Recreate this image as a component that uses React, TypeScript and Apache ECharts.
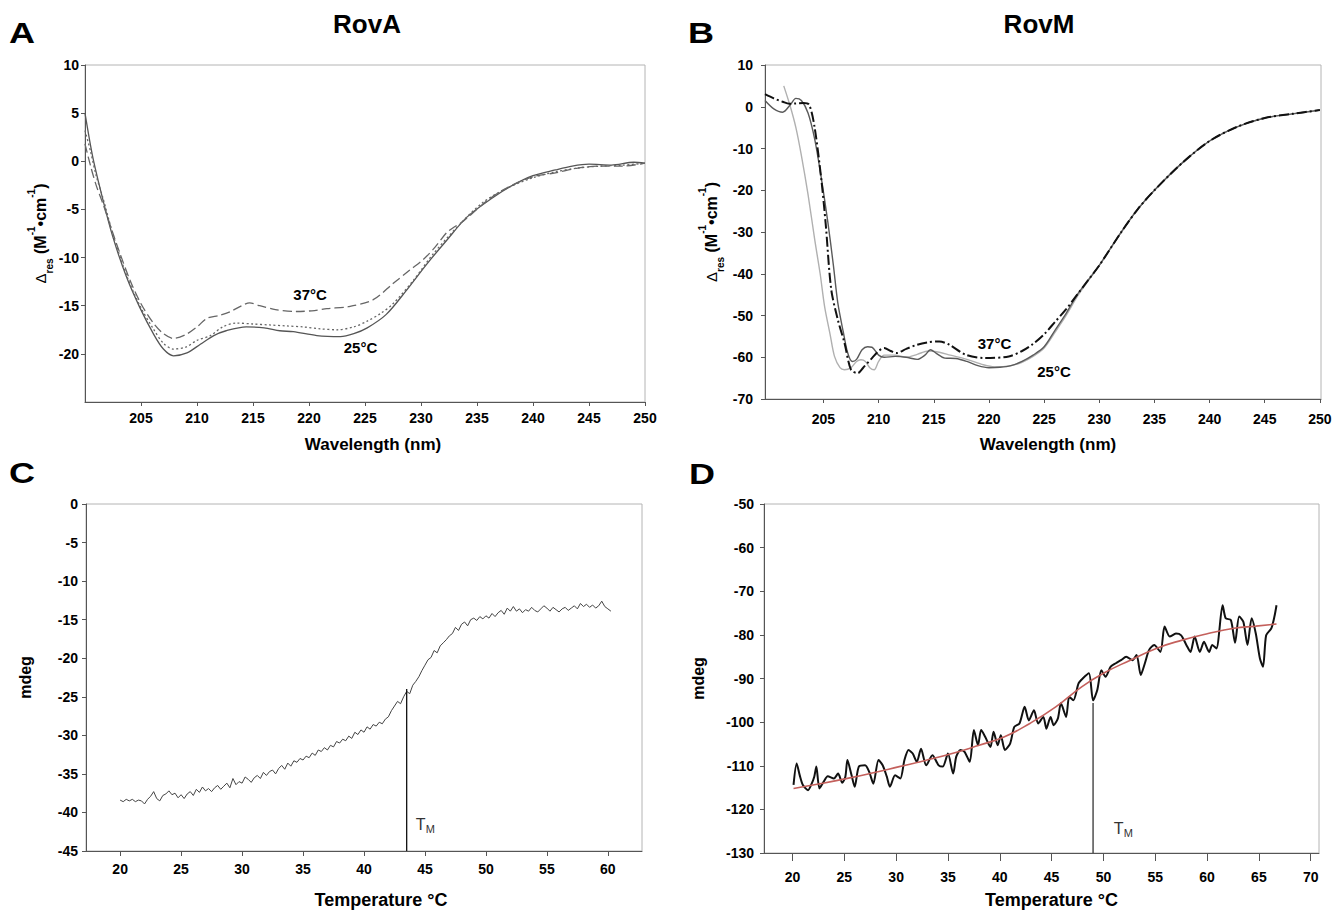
import React, { useEffect, useRef } from "react";
import * as echarts from "echarts";

const FONT = "'Liberation Sans', Arial, Helvetica, sans-serif";

// ---------- Panel A : RovA CD spectra (wavelength nm, Δε res) ----------
const rovA25: number[][] = [
  [200, 5], [200.7, 0.4], [201.6, -4], [202.5, -7.9], [203.7, -12], [204.9, -15.2],
  [206.1, -17.9], [207, -19.5], [207.9, -20.2], [209.1, -19.9], [210.3, -19],
  [211.5, -18.1], [212.6, -17.6], [214.4, -17.2], [216, -17.3], [217.4, -17.6],
  [218.6, -17.7], [220.7, -18.1], [222.8, -18.2], [224, -17.9], [225.2, -17.3],
  [226.9, -15.9], [228.7, -13.4], [230.5, -10.7], [232.3, -8.2], [234.1, -5.8],
  [236.5, -3.7], [238, -2.6], [240, -1.5], [242, -0.9], [243.5, -0.5], [245, -0.3],
  [247, -0.4], [249, -0.1], [250, -0.2],
];
const rovAMid: number[][] = [
  [200, 3.2], [200.5, 1.0], [201, -1.5], [201.6, -3.8], [202.5, -7.6], [203.7, -11.8],
  [204.9, -15], [206.1, -17.4], [207, -18.9], [207.9, -19.5], [209, -19.3], [210, -18.6],
  [211.2, -18.1], [212.3, -17.2], [213.5, -16.8], [215, -16.9], [216.5, -17], [218, -17.1],
  [219.5, -17.2], [221, -17.4], [222.5, -17.5], [224, -17.2], [225.2, -16.6], [226.4, -15.8],
  [227.5, -14.8], [229.3, -12.4], [231.1, -9.6], [233.5, -6.5], [235.5, -4.3], [237.5, -2.9],
  [240, -1.7], [242, -1.1], [244, -0.7], [246, -0.5], [248, -0.4], [250, -0.2],
];
const rovA37: number[][] = [
  [200, 1.8], [200.5, -0.5], [201, -2.5], [201.6, -4.4], [202.5, -7.5], [203.1, -9.5],
  [204, -12.3], [205, -14.8], [206.1, -16.8], [207, -17.9], [207.9, -18.4], [209, -18],
  [210, -17.2], [210.9, -16.3], [212, -16], [213, -15.6], [214, -15], [214.7, -14.7],
  [215.6, -15], [217, -15.4], [218.9, -15.6], [220.5, -15.5], [221.6, -15.3], [223.5, -15.1],
  [225.7, -14.4], [227.5, -12.7], [229, -11.3], [230.2, -10.2], [231.2, -9], [232.3, -7.4],
  [233, -6.8], [233.8, -6.2], [235.9, -4.1], [237.6, -2.8], [240, -1.6], [242, -1.2],
  [244, -0.7], [246, -0.5], [248, -0.5], [250, -0.2],
];

// ---------- Panel B : RovM CD spectra ----------
const rovM25: number[][] = [
  [199.7, 1.5], [200.5, -0.5], [201.3, -1.3], [202, 0.5], [202.5, 2.0], [203, 1.5],
  [203.6, -1.5], [204.2, -7.7], [204.8, -17], [205.4, -27.7], [205.9, -38], [206.3, -47],
  [206.8, -54], [207.2, -59], [207.6, -61], [208, -60.5], [208.5, -58.2], [209, -57.5],
  [209.4, -57.6], [210, -59.5], [210.5, -60], [211.5, -59.8], [212.5, -60], [213.5, -60.5],
  [214.2, -59.5], [214.7, -58.2], [215.2, -59], [216, -60.2], [217, -60.3], [218, -61],
  [219, -62], [220, -62.5], [221, -62.4], [222, -62], [223, -61], [224, -59.5], [225, -57.5],
  [226, -53.5], [227, -49.5], [228, -45], [229, -41.5], [230, -38], [232, -30], [233.5, -24.5],
  [235, -20], [237.5, -13.5], [240, -8.2], [242.5, -4.8], [245, -2.7], [247.5, -1.7], [250, -0.8],
];
const rovMLight: number[][] = [
  [201.4, 5], [202, 0], [202.5, -5], [203, -11.7], [203.6, -21], [204.2, -31.7],
  [204.7, -40], [205.1, -47.8], [205.6, -54.5], [206, -59.8], [206.5, -62.5], [206.9, -63],
  [207.5, -62.5], [208, -61], [208.4, -60.6], [208.8, -61], [209.2, -62.5], [209.6, -63],
  [210, -61], [210.5, -59.5], [211.5, -59.5], [212.5, -60], [213.5, -59.3], [214.5, -58.5],
  [215.5, -58.8], [216.5, -59.5], [218, -60.5], [219.5, -61.8], [220.5, -62.3], [222, -62],
  [223, -61.2], [224, -59.8], [225, -57.8], [226, -54], [227, -50], [228, -45.5], [229, -41.7],
  [230, -38], [232, -30], [233.5, -24.5], [235, -20], [237.5, -13.5], [240, -8.2],
  [242.5, -4.8], [245, -2.7], [247.5, -1.7], [250, -0.8],
];
const rovM37: number[][] = [
  [199.7, 3], [200.5, 2], [201.3, 1.2], [201.9, 0.7], [202.5, 0.8], [203.2, 0.9],
  [203.7, 0.5], [204.2, -5], [204.8, -17.3], [205.2, -28], [205.7, -43.7], [206.3, -51],
  [206.9, -56.5], [207.5, -63], [208.1, -63.8], [208.6, -62.5], [209.4, -60.2], [210, -58.5],
  [210.5, -57.8], [211.1, -58.5], [211.6, -59], [212.5, -58], [213.5, -57], [214.5, -56.4],
  [215.5, -56.2], [216.4, -57], [217.9, -59.4], [219.7, -60.2], [221.8, -59.8], [223, -58.5],
  [224, -56.8], [225, -54.5], [226, -51.5], [227, -48.5], [228, -45], [229, -41.5], [230, -38],
  [232, -30], [233.5, -24.5], [235, -20], [237.5, -13.5], [240, -8.2], [242.5, -4.8],
  [245, -2.7], [247.5, -1.7], [250, -0.8],
];

// ---------- Panel C : RovA thermal melt (mdeg), 20 °C onwards every 0.25 °C ----------
const meltAStart = 20;
const meltAStep = 0.25;
const meltA: number[] = [
  -38.4, -38.6, -38.3, -38.5, -38.3, -38.6, -38.4, -38.5, -38.9, -38.3, -37.9, -37.3,
  -38.2, -38.5, -37.8, -37.6, -37.2, -37.7, -37.5, -38.1, -37.7, -38.2, -37.6, -37.3,
  -37.8, -37.0, -37.4, -36.7, -37.2, -36.9, -37.3, -36.8, -36.5, -37.0, -36.6, -36.2,
  -36.8, -35.6, -36.4, -36.0, -36.2, -35.4, -35.7, -36.1, -35.5, -35.2, -35.6, -34.8,
  -35.2, -34.7, -34.5, -35.0, -34.3, -33.9, -34.4, -33.6, -34.0, -33.3, -33.5, -33.0,
  -33.2, -32.7, -32.9, -32.3, -32.6, -31.9, -32.1, -31.6, -31.9, -31.3, -31.5, -30.8,
  -31.0, -30.5, -30.7, -30.1, -30.4, -29.6, -29.9, -29.3, -29.6, -28.9, -29.2, -28.6,
  -28.8, -28.3, -28.5, -27.9, -27.6, -26.8, -26.2, -25.6, -25.9, -25.0, -24.3, -24.6,
  -23.5, -23.0, -22.4, -21.6, -20.9, -20.2, -19.9, -19.0, -19.3, -18.4, -18.0, -17.6,
  -17.1, -16.8, -16.0, -16.4, -15.6, -15.3, -15.8, -15.0, -14.8, -15.1, -14.6, -14.9,
  -14.5, -14.8, -14.2, -14.6, -14.1, -13.8, -14.3, -13.5, -13.9, -13.3, -13.9, -13.6,
  -14.1, -13.7, -13.9, -13.4, -13.8, -14.0, -13.6, -13.2, -13.5, -13.9, -13.4, -13.7,
  -14.0, -13.6, -13.4, -13.8, -13.5, -13.2, -13.6, -12.9, -13.3, -13.0, -13.4, -13.1,
  -13.5, -13.2, -12.6, -13.3, -13.6, -13.9,
];
const tmA = 43.5;
const tmATop = -24;

// ---------- Panel D : RovM thermal melt (mdeg) ----------
const meltM: number[][] = [
  [20.1, -114.4], [20.4, -109.5], [20.7, -112.2], [21, -114.4], [21.5, -115.6], [21.8, -114.4],
  [22.1, -112.5], [22.3, -110.2], [22.6, -115.2], [23, -113.7], [23.4, -112.4], [24, -112.9],
  [24.4, -111.8], [24.8, -113.9], [25.1, -112.5], [25.3, -108.7], [25.7, -112.2], [26, -114.8],
  [26.4, -110.2], [27, -109.9], [27.4, -111.4], [27.8, -114.1], [28.3, -108.7], [28.7, -109.9],
  [29.1, -112.5], [29.4, -114.8], [29.9, -112.2], [30.4, -112.9], [30.8, -108.7], [31.2, -106.4],
  [31.6, -107.2], [32, -109.1], [32.4, -106.1], [32.9, -109.9], [33.5, -107.6], [34.1, -109.9],
  [34.5, -110.2], [35, -107.2], [35.5, -111.8], [35.8, -107.9], [36.2, -106.4], [36.6, -106.8],
  [37.1, -109.1], [37.5, -101.8], [37.9, -105.3], [38.2, -101.8], [38.6, -103.4], [39.1, -105.7],
  [39.4, -102.2], [39.8, -105.3], [40.1, -103], [40.5, -106.4], [41, -104.9], [41.4, -101.1],
  [41.9, -100.3], [42.4, -96.5], [42.8, -99.6], [43.3, -97.3], [43.7, -100.3], [44.2, -98.8],
  [44.5, -101.5], [44.9, -98.8], [45.2, -100.7], [45.6, -99.2], [45.9, -95.7], [46.4, -98.8],
  [46.7, -94.2], [47.1, -95], [47.6, -91.1], [48, -90], [48.6, -88.8], [49, -95], [49.4, -92.7],
  [49.8, -88.1], [50.2, -89.6], [50.7, -87.3], [51.2, -86.5], [51.7, -85.8], [52.2, -85],
  [52.8, -85.8], [53.2, -84.6], [53.6, -89.2], [54, -86.5], [54.4, -83.5], [54.9, -82.3],
  [55.5, -83.9], [55.9, -78.1], [56.4, -80.4], [57, -79.7], [57.5, -80.1], [58, -82.3],
  [58.4, -83.9], [58.8, -80.4], [59.3, -83.9], [59.7, -81.6], [60.2, -83.9], [60.5, -82.3],
  [60.9, -83.1], [61.5, -73.2], [61.8, -76.2], [62.3, -76.6], [62.7, -81.8], [63.1, -75.8],
  [63.5, -77], [63.9, -82.3], [64.3, -76.2], [64.7, -79.7], [65.1, -85.4], [65.4, -87.3],
  [65.7, -80.1], [66.2, -78.5], [66.5, -75.8], [66.7, -73.2],
];
const meltMFit: number[][] = [
  [20.1, -115.2], [22.5, -114.2], [25.3, -112.9], [27.8, -111.6], [30.3, -110.2],
  [32.8, -108.8], [35.4, -107.2], [38, -105.3], [40.4, -103.4], [42.9, -100.3],
  [45.4, -96.5], [47.9, -91.9], [50, -88.8], [52.6, -85.8], [55.1, -83.1], [57.6, -81.2],
  [60.1, -79.7], [62.6, -78.5], [64.7, -78.0], [66.7, -77.5],
];
const tmM = 49;
const tmMTop = -95.6;

// ---------- Tick labels ----------
const wlTicks = [205, 210, 215, 220, 225, 230, 235, 240, 245, 250];
const rovATicksY = [10, 5, 0, -5, -10, -15, -20];
const rovMTicksY = [10, 0, -10, -20, -30, -40, -50, -60, -70];
const tempTicksC = [20, 25, 30, 35, 40, 45, 50, 55, 60];
const tempTicksD = [20, 25, 30, 35, 40, 45, 50, 55, 60, 65, 70];
const mdegTicksC = [0, -5, -10, -15, -20, -25, -30, -35, -40, -45];
const mdegTicksD = [-50, -60, -70, -80, -90, -100, -110, -120, -130];

// ---------- Annotations ----------
const annotations: { panel: number; at: number[]; text: string; kind: "temp" | "tm" }[] = [
  { panel: 0, at: [220.1, -13.8], text: "37°C", kind: "temp" },
  { panel: 0, at: [224.6, -19.3], text: "25°C", kind: "temp" },
  { panel: 1, at: [220.5, -56.6], text: "37°C", kind: "temp" },
  { panel: 1, at: [225.9, -63.5], text: "25°C", kind: "temp" },
  { panel: 2, at: [44.25, -41.5], text: "T", kind: "tm" },
  { panel: 3, at: [51.0, -124.3], text: "T", kind: "tm" },
];

const AXIS_COLOR = "#555";
const INK = "#000000";

const deltaName = "{d|Δ}{s|res}{a| (M}{p|-1}{a|•cm}{p|-1}{a|)}";
const deltaRich = {
  d: { fontFamily: FONT, fontSize: 15, lineHeight: 28, color: INK },
  s: { fontFamily: FONT, fontSize: 10, fontWeight: "bold", lineHeight: 13, verticalAlign: "bottom", color: INK },
  a: { fontFamily: FONT, fontSize: 16, fontWeight: "bold", lineHeight: 28, color: INK },
  p: { fontFamily: FONT, fontSize: 10, fontWeight: "bold", lineHeight: 17, verticalAlign: "top", color: INK },
};

// panel layout: axis ranges and tick sets
const panels = [
  { xMin: 200, xMax: 250, yMin: -25, yMax: 10, xTicks: wlTicks, yTicks: rovATicksY, xLabOff: 16, yLabGap: 6 },
  { xMin: 199.7, xMax: 250.1, yMin: -70, yMax: 10, xTicks: wlTicks, yTicks: rovMTicksY, xLabOff: 20, yLabGap: 12 },
  { xMin: 17.2, xMax: 62.8, yMin: -45, yMax: 0, xTicks: tempTicksC, yTicks: mdegTicksC, xLabOff: 18, yLabGap: 8 },
  { xMin: 17.25, xMax: 70.8, yMin: -130, yMax: -50, xTicks: tempTicksD, yTicks: mdegTicksD, xLabOff: 24, yLabGap: 10 },
];

function xAxisCfg(i: number, name: string, gap: number, fontSize: number, tickLen: number, padLeft: number) {
  const p = panels[i];
  return {
    type: "value",
    gridIndex: i,
    min: p.xMin,
    max: p.xMax,
    axisLine: { show: true, onZero: false, lineStyle: { color: AXIS_COLOR, width: 1 } },
    axisTick: { show: true, inside: false, length: tickLen, customValues: p.xTicks, lineStyle: { color: AXIS_COLOR } },
    axisLabel: { show: false },
    splitLine: { show: false },
    name,
    nameLocation: "middle",
    nameGap: gap,
    nameTextStyle: { fontFamily: FONT, fontWeight: "bold", fontSize, color: INK, padding: [0, 0, 0, padLeft] },
  };
}

function yAxisCfg(i: number, name: string, gap: number, rich?: any) {
  const p = panels[i];
  return {
    type: "value",
    gridIndex: i,
    min: p.yMin,
    max: p.yMax,
    axisLine: { show: true, onZero: false, lineStyle: { color: AXIS_COLOR, width: 1 } },
    axisTick: { show: true, inside: false, length: 4, customValues: p.yTicks, lineStyle: { color: AXIS_COLOR } },
    axisLabel: { show: false },
    splitLine: { show: false },
    name,
    nameLocation: "middle",
    nameRotate: 90,
    nameGap: gap,
    nameTextStyle: rich
      ? { rich }
      : { fontFamily: FONT, fontWeight: "bold", fontSize: 16, color: INK },
  };
}

function lineSeries(xi: number, data: number[][], color: string, width: number, type: any, smooth: number | boolean, z = 2) {
  return {
    type: "line",
    xAxisIndex: xi,
    yAxisIndex: xi,
    data,
    showSymbol: false,
    symbol: "none",
    smooth,
    z,
    lineStyle: { color, width, type },
    emphasis: { disabled: true },
  };
}

function txt(x: number, y: number, text: string, size: number, align: string, vAlign: string, bold: boolean, fill = INK, scaleX = 1) {
  return {
    type: "text",
    x,
    y,
    scaleX,
    z: 10,
    style: {
      text,
      font: (bold ? "bold " : "") + size + "px " + FONT,
      fontFamily: FONT,
      fontWeight: bold ? "bold" : "normal",
      fontSize: size,
      fill,
      align,
      verticalAlign: vAlign,
      textAlign: align,
      textVerticalAlign: vAlign,
    },
  };
}

export default function App() {
  const ref = useRef<HTMLDivElement>(null);

  useEffect(() => {
    if (!ref.current) return;
    const chart = echarts.init(ref.current, undefined, { renderer: "svg" });
    const meltAData = meltA.map((v, i) => [meltAStart + i * meltAStep, v]);

    const gridBase = { show: true, borderColor: "#b4b4b4", borderWidth: 1, backgroundColor: "transparent", containLabel: false };

    const baseGraphic = [
      txt(22, 33, "A", 30, "center", "middle", true, INK, 1.2),
      txt(701, 33, "B", 30, "center", "middle", true, INK, 1.2),
      txt(22, 473, "C", 30, "center", "middle", true, INK, 1.2),
      txt(702, 474, "D", 30, "center", "middle", true, INK, 1.2),
      txt(367, 24, "RovA", 26, "center", "middle", true),
      txt(1039, 24, "RovM", 26, "center", "middle", true),
    ];

    const option: any = {
      animation: false,
      backgroundColor: "#ffffff",
      textStyle: { fontFamily: FONT },
      grid: [
        { ...gridBase, left: 85, top: 65, width: 560, height: 337 },
        { ...gridBase, left: 765, top: 65, width: 556, height: 334 },
        { ...gridBase, left: 86, top: 504, width: 556, height: 347 },
        { ...gridBase, left: 764, top: 504, width: 555, height: 349 },
      ],
      xAxis: [
        xAxisCfg(0, "Wavelength (nm)", 34, 17, 4, 16),
        xAxisCfg(1, "Wavelength (nm)", 37, 17, 4, 10),
        xAxisCfg(2, "Temperature °C", 40, 18, 5, 34),
        xAxisCfg(3, "Temperature °C", 38, 18, 8, 20),
      ],
      yAxis: [
        yAxisCfg(0, deltaName, 31, deltaRich),
        yAxisCfg(1, deltaName, 40, deltaRich),
        yAxisCfg(2, "mdeg", 53),
        yAxisCfg(3, "mdeg", 58),
      ],
      series: [
        // A
        lineSeries(0, rovA25, "#555", 1.3, "solid", 0.3),
        lineSeries(0, rovAMid, "#666", 1.3, [2, 2.5], 0.3),
        lineSeries(0, rovA37, "#666", 1.3, [9, 4], 0.3),
        // B
        lineSeries(1, rovMLight, "#b0b0b0", 1.4, "solid", 0.3),
        lineSeries(1, rovM25, "#5a5a5a", 1.4, "solid", 0.3),
        lineSeries(1, rovM37, "#111", 2, [10, 3, 2, 3], 0.3, 3),
        // C
        lineSeries(2, meltAData, "#444", 1, "solid", false),
        lineSeries(2, [[tmA, -45], [tmA, tmATop]], "#111", 1.3, "solid", false, 3),
        // D
        lineSeries(3, meltM, "#111", 2, "solid", 0.25),
        lineSeries(3, meltMFit, "#c4605c", 1.6, "solid", true, 3),
        lineSeries(3, [[tmM, -130], [tmM, tmMTop]], "#333", 1.3, "solid", false, 3),
      ],
    };
    chart.setOption(option);

    // tick labels and annotations placed through the axes' own scales
    const extra: any[] = [];
    panels.forEach((p, i) => {
      p.xTicks.forEach((t) => {
        const px = chart.convertToPixel({ gridIndex: i } as any, [t, p.yMin]) as number[];
        if (px) extra.push(txt(px[0], px[1] + p.xLabOff, String(t), 14, "center", "middle", true));
      });
      p.yTicks.forEach((t) => {
        const px = chart.convertToPixel({ gridIndex: i } as any, [p.xMin, t]) as number[];
        if (px) extra.push(txt(px[0] - p.yLabGap, px[1], String(t), 14, "right", "middle", true));
      });
    });
    annotations.forEach((a) => {
      const px = chart.convertToPixel({ gridIndex: a.panel } as any, a.at) as number[];
      if (!px) return;
      if (a.kind === "temp") {
        extra.push(txt(px[0], px[1], a.text, 15, "center", "middle", true));
      } else {
        extra.push(txt(px[0], px[1], a.text, 16, "left", "middle", false, "#333"));
        extra.push(txt(px[0] + 10, px[1] + 5, "M", 11, "left", "middle", false, "#333"));
      }
    });
    chart.setOption({ graphic: { elements: [...baseGraphic, ...extra] } });

    return () => chart.dispose();
  }, []);

  return (
    <div
      ref={ref}
      style={{ position: "fixed", left: 0, top: 0, width: 1341, height: 912, background: "#fff" }}
    />
  );
}
